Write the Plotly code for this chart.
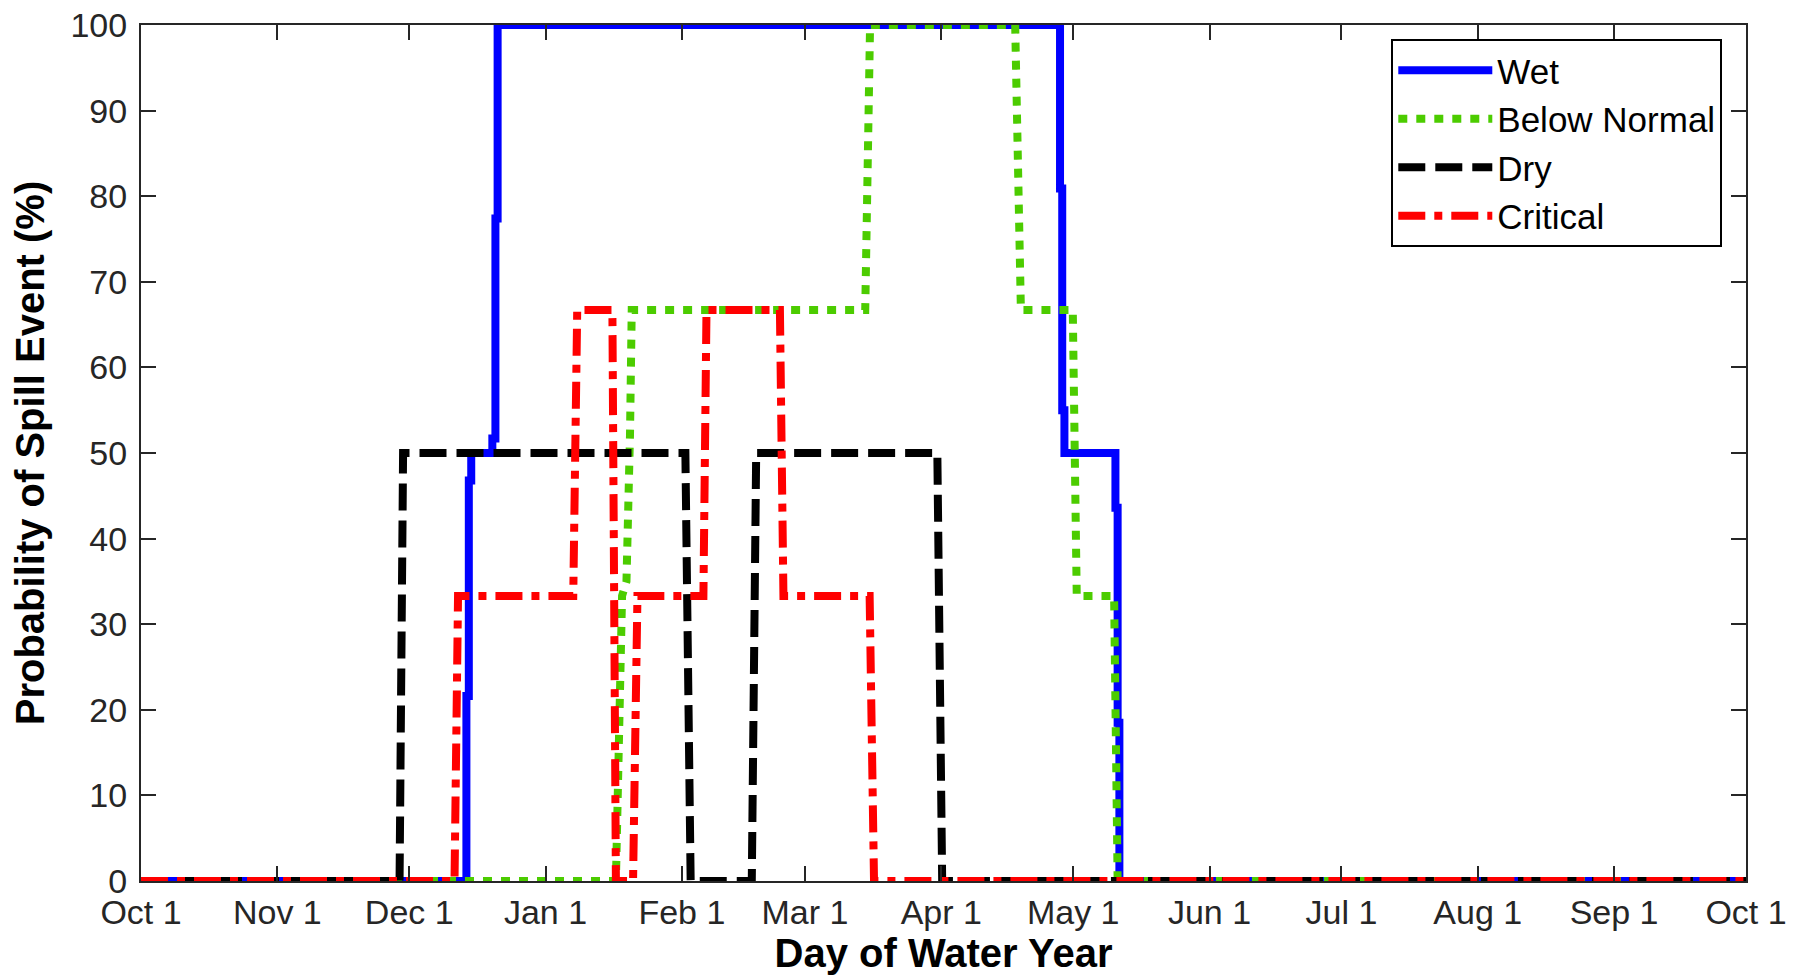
import plotly.graph_objects as go

# ---- axis ticks ----
month_ticks = [0, 31, 61, 92, 123, 151, 182, 212, 243, 273, 304, 335, 365]
month_labels = ["Oct 1", "Nov 1", "Dec 1", "Jan 1", "Feb 1", "Mar 1", "Apr 1",
                "May 1", "Jun 1", "Jul 1", "Aug 1", "Sep 1", "Oct 1"]
prob_ticks = [0, 10, 20, 30, 40, 50, 60, 70, 80, 90, 100]

# ---- series (day of water year, probability %) ----
wet_day = [0, 74.0, 74.55, 75.1, 79.9, 80.6, 81.1, 209.0, 209.5, 210.0, 221.6, 222.1, 222.5, 365]
wet_prob = [0, 21.6, 46.8, 50, 51.7, 77.4, 100, 80.9, 55.0, 50, 43.6, 18.5, 0, 0]

bn_day = [0, 108.0, 109.4, 110.4, 111.2, 111.6, 164.7, 165.8, 198.8, 200.1,
          211.9, 212.8, 221.3, 222.1, 365]
bn_prob = [0, 0, 33.3, 35, 52, 66.7, 66.7, 100, 100, 66.7,
           66.7, 33.3, 33.3, 0, 0]

dry_day = [0, 58.8, 59.6, 123.8, 125.0, 138.9, 139.9, 181.1, 182.2, 365]
dry_prob = [0, 0, 50, 50, 0, 0, 50, 50, 0, 0]

crit_day = [0, 71.3, 72.1, 98.3, 99.2, 107.2, 108.0, 111.9, 112.9, 127.9, 128.6,
            145.3, 146.1, 165.7, 166.7, 365]
crit_prob = [0, 0, 33.3, 33.3, 66.7, 66.7, 0, 0, 33.3, 33.3, 66.7,
             66.7, 33.3, 33.3, 0, 0]

FONT = "Liberation Sans, Arial, sans-serif"

fig = go.Figure()
fig.add_trace(go.Scatter(x=wet_day, y=wet_prob, name="Wet", mode="lines",
                         line=dict(color="#0000ff", width=8, shape="hv")))
fig.add_trace(go.Scatter(x=bn_day, y=bn_prob, name="Below Normal", mode="lines",
                         line=dict(color="#4ccc00", width=8, dash="9px,9px")))
fig.add_trace(go.Scatter(x=dry_day, y=dry_prob, name="Dry", mode="lines",
                         line=dict(color="#000000", width=8, dash="27px,10px")))
fig.add_trace(go.Scatter(x=crit_day, y=crit_prob, name="Critical", mode="lines",
                         line=dict(color="#ff0000", width=8, dash="27px,9px,8px,9px")))

axis_common = dict(
    showline=True, linecolor="#262626", linewidth=2, mirror="ticks",
    ticks="inside", ticklen=15, tickwidth=1.5, tickcolor="#262626",
    showgrid=False, zeroline=False, automargin=False, ticklabeloverflow="allow",
    tickfont=dict(family=FONT, size=34, color="#262626"),
)

# page body has an 8px default margin, so the figure is 8px smaller than the window
fig.update_layout(
    width=1797, height=971,
    paper_bgcolor="white", plot_bgcolor="white",
    margin=dict(l=133, r=59, t=17, b=98),
    font=dict(family=FONT, color="#000000"),
    xaxis=dict(range=[0, 365], tickvals=month_ticks, ticktext=month_labels,
               title=dict(text="<b>Day of Water Year</b>", font=dict(family=FONT, size=40, color="#000"),
                          standoff=8),
               **axis_common),
    yaxis=dict(range=[0, 100], tickvals=prob_ticks, ticklabelstandoff=5,
               title=dict(text="<b>Probability of Spill Event (%)</b>",
                          font=dict(family=FONT, size=40, color="#000"), standoff=14),
               **axis_common),
    legend=dict(x=0.779, y=0.9836, xanchor="left", yanchor="top",
                bgcolor="white", bordercolor="#000000", borderwidth=2,
                font=dict(family=FONT, size=35, color="#000"),
                itemwidth=94, tracegroupgap=0),
    showlegend=True,
)

fig.write_html("out.html")
